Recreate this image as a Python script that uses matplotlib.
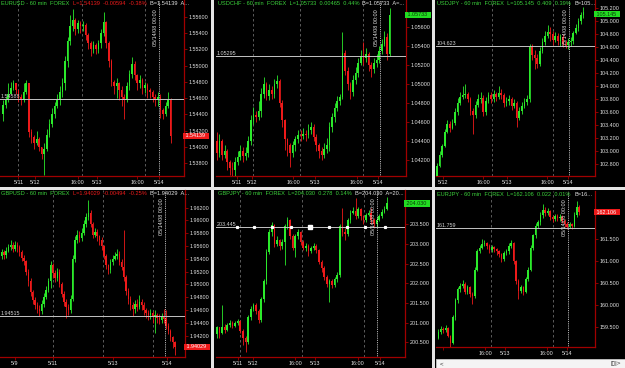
import matplotlib
matplotlib.use('Agg')
import matplotlib.pyplot as plt
import matplotlib.transforms as mtransforms

plt.rcParams['font.family'] = ['Liberation Sans', 'DejaVu Sans']

W, H = 625, 368
fig = plt.figure(figsize=(W / 100, H / 100), dpi=100, facecolor='#e4e4e4')
FS = 3.9
TFS = 4.1
GREEN = '#2bea2b'
RED = '#ee1a1a'
TXT = '#e2e2e2'
AXRED = '#a00000'

# ---------------- data ----------------
eurusd_open0 = 1.5440
eurusd_close = [1.5452, 1.5458, 1.5465, 1.5472, 1.5478, 1.5470, 1.5462, 1.5458, 1.5468, 1.5478,
                1.5418, 1.5412, 1.5405, 1.5410, 1.5400, 1.5392, 1.5398, 1.5415, 1.5428, 1.5440,
                1.5450, 1.5458, 1.5468, 1.5478, 1.5505, 1.5530, 1.5548, 1.5556, 1.5545, 1.5552,
                1.5548, 1.5550, 1.5538, 1.5528, 1.5520, 1.5525, 1.5520, 1.5528, 1.5540, 1.5553,
                1.5528, 1.5505, 1.5480, 1.5475, 1.5478, 1.5470, 1.5462, 1.5458, 1.5475, 1.5490,
                1.5502, 1.5488, 1.5478, 1.5482, 1.5472, 1.5476, 1.5470, 1.5468, 1.5462, 1.5458,
                1.5462, 1.5445, 1.5440, 1.5450, 1.5458, 1.54139]
eurusd_high = [1.5458, 1.5462, 1.5478, 1.5480, 1.5482, 1.5478, 1.5470, 1.5465, 1.5478, 1.5482,
               1.5478, 1.5422, 1.5415, 1.5420, 1.5412, 1.5400, 1.5405, 1.5422, 1.5435, 1.5448,
               1.5455, 1.5465, 1.5475, 1.5485, 1.5512, 1.5535, 1.5562, 1.5570, 1.5558, 1.5556,
               1.5555, 1.5555, 1.5552, 1.5540, 1.5530, 1.5530, 1.5528, 1.5532, 1.5545, 1.5566,
               1.5555, 1.5530, 1.5508, 1.5482, 1.5485, 1.5480, 1.5475, 1.5465, 1.5480, 1.5495,
               1.5510, 1.5505, 1.5490, 1.5488, 1.5485, 1.5480, 1.5478, 1.5472, 1.5470, 1.5465,
               1.5468, 1.5465, 1.5448, 1.5455, 1.5468, 1.5460]
eurusd_low = [1.5432, 1.5448, 1.5455, 1.5465, 1.5470, 1.5465, 1.5455, 1.5452, 1.5455, 1.5465,
              1.5412, 1.5405, 1.5398, 1.5402, 1.5395, 1.5385, 1.5366, 1.5395, 1.5412, 1.5425,
              1.5436, 1.5448, 1.5452, 1.5462, 1.5470, 1.5498, 1.5525, 1.5542, 1.5538, 1.5540,
              1.5540, 1.5542, 1.5532, 1.5520, 1.5512, 1.5515, 1.5514, 1.5516, 1.5522, 1.5536,
              1.5522, 1.5498, 1.5475, 1.5465, 1.5460, 1.5458, 1.5450, 1.5435, 1.5455, 1.5470,
              1.5485, 1.5482, 1.5470, 1.5472, 1.5465, 1.5466, 1.5460, 1.5460, 1.5455, 1.5450,
              1.5450, 1.5436, 1.5435, 1.5438, 1.5448, 1.5405]

usdchf_open0 = 1.0440
usdchf_close = [1.0428, 1.0440, 1.0426, 1.0430, 1.0418, 1.0412, 1.0410, 1.0418, 1.0424, 1.0430,
                1.0425, 1.0428, 1.0440, 1.0462, 1.0468, 1.0466, 1.0472, 1.0490, 1.0500, 1.0488,
                1.0494, 1.0490, 1.0500, 1.0504, 1.0480, 1.0462, 1.0442, 1.0436, 1.0428, 1.0436,
                1.0442, 1.0447, 1.0446, 1.0448, 1.0447, 1.0452, 1.0455, 1.0445, 1.0436, 1.0430,
                1.0426, 1.0432, 1.0436, 1.0455, 1.0466, 1.0475, 1.0482, 1.0487, 1.0533, 1.0514,
                1.0500, 1.0492, 1.0505, 1.0512, 1.0522, 1.0530, 1.0528, 1.0532, 1.0520, 1.0516,
                1.0522, 1.0526, 1.0535, 1.0542, 1.0550, 1.0532, 1.05733]
usdchf_high = [1.0450, 1.0448, 1.0442, 1.0436, 1.0432, 1.0420, 1.0418, 1.0424, 1.0430, 1.0436,
               1.0434, 1.0434, 1.0446, 1.0468, 1.0476, 1.0472, 1.0482, 1.0496, 1.0508, 1.0502,
               1.0500, 1.0498, 1.0506, 1.0510, 1.0506, 1.0484, 1.0464, 1.0444, 1.0438, 1.0440,
               1.0446, 1.0452, 1.0452, 1.0454, 1.0452, 1.0458, 1.0460, 1.0458, 1.0448, 1.0438,
               1.0434, 1.0438, 1.0444, 1.0460, 1.0470, 1.0480, 1.0488, 1.0490, 1.0555, 1.0536,
               1.0518, 1.0502, 1.0510, 1.0518, 1.0528, 1.0536, 1.0545, 1.0538, 1.0534, 1.0524,
               1.0528, 1.0532, 1.0540, 1.0548, 1.0556, 1.0554, 1.0580]
usdchf_low = [1.0420, 1.0424, 1.0420, 1.0422, 1.0410, 1.0405, 1.0404, 1.0402, 1.0415, 1.0420,
              1.0418, 1.0420, 1.0424, 1.0436, 1.0458, 1.0460, 1.0462, 1.0466, 1.0486, 1.0484,
              1.0484, 1.0485, 1.0486, 1.0496, 1.0476, 1.0455, 1.0431, 1.0425, 1.0413, 1.0424,
              1.0430, 1.0438, 1.0440, 1.0442, 1.0440, 1.0444, 1.0448, 1.0440, 1.0430, 1.0422,
              1.0420, 1.0422, 1.0428, 1.0430, 1.0450, 1.0460, 1.0472, 1.0478, 1.0485, 1.0510,
              1.0494, 1.0485, 1.0488, 1.0500, 1.0508, 1.0520, 1.0520, 1.0524, 1.0514, 1.0508,
              1.0512, 1.0518, 1.0522, 1.0532, 1.0540, 1.0526, 1.0530]

usdjpy_open0 = 102.62
usdjpy_close = [102.78, 102.95, 103.08, 103.30, 103.42, 103.36, 103.44, 103.60, 103.75, 103.84,
                103.86, 103.88, 103.80, 103.62, 103.56, 103.72, 103.80, 103.82, 103.60, 103.78,
                103.86, 103.80, 103.88, 103.84, 103.90, 103.86, 103.74, 103.78, 103.80, 103.70,
                103.74, 103.52, 103.62, 103.70, 103.76, 103.80, 104.60, 104.48, 104.44, 104.34,
                104.55, 104.68, 104.78, 104.84, 104.80, 104.72, 104.78, 104.70, 104.76, 104.66,
                104.64, 104.68, 104.70, 104.82, 104.90, 105.00, 105.10, 105.145]
usdjpy_high = [102.82, 103.00, 103.12, 103.35, 103.48, 103.46, 103.50, 103.66, 103.82, 103.92,
               104.01, 104.04, 103.92, 103.84, 103.66, 103.78, 103.88, 103.92, 103.86, 103.84,
               103.92, 103.92, 103.94, 103.92, 104.00, 103.96, 103.90, 103.84, 103.86, 103.84,
               103.80, 103.78, 103.68, 103.76, 103.82, 103.86, 104.66, 104.66, 104.56, 104.50,
               104.60, 104.74, 104.86, 104.94, 104.92, 104.86, 104.84, 104.82, 104.80, 104.80,
               104.72, 104.74, 104.76, 104.86, 104.96, 105.05, 105.14, 105.22]
usdjpy_low = [102.58, 102.76, 102.92, 103.06, 103.28, 103.30, 103.34, 103.40, 103.56, 103.72,
              103.80, 103.82, 103.76, 103.56, 103.26, 103.52, 103.68, 103.74, 103.54, 103.56,
              103.74, 103.74, 103.76, 103.78, 103.80, 103.80, 103.68, 103.70, 103.72, 103.64,
              103.66, 103.38, 103.48, 103.58, 103.66, 103.72, 103.76, 104.40, 104.27, 104.28,
              104.32, 104.52, 104.64, 104.74, 104.70, 104.64, 104.68, 104.64, 104.62, 104.60,
              104.59, 104.58, 104.62, 104.66, 104.80, 104.86, 104.96, 105.06]

gbpusd_open0 = 1.9545
gbpusd_close = [1.9550, 1.9546, 1.9552, 1.9558, 1.9562, 1.9556, 1.9562, 1.9558, 1.9550, 1.9542,
                1.9536, 1.9520, 1.9505, 1.9488, 1.9476, 1.9468, 1.9462, 1.9458, 1.9470, 1.9480,
                1.9492, 1.9505, 1.9530, 1.9518, 1.9510, 1.9520, 1.9500, 1.9485, 1.9472, 1.9465,
                1.9460, 1.9478, 1.9540, 1.9570, 1.9578, 1.9572, 1.9580, 1.9595, 1.9605, 1.9612,
                1.9595, 1.9578, 1.9582, 1.9575, 1.9570, 1.9560, 1.9545, 1.9530, 1.9522, 1.9535,
                1.9540, 1.9545, 1.9548, 1.9535, 1.9528, 1.9512, 1.9490, 1.9478, 1.9468, 1.9462,
                1.9470, 1.9465, 1.9472, 1.9468, 1.9460, 1.9456, 1.9452, 1.9455, 1.9450, 1.9452,
                1.9448, 1.9445, 1.9450, 1.9446, 1.9435, 1.9428, 1.9418, 1.9410, 1.94029]
gbpusd_high = [1.9556, 1.9554, 1.9558, 1.9564, 1.9570, 1.9566, 1.9568, 1.9566, 1.9562, 1.9554,
               1.9546, 1.9538, 1.9524, 1.9510, 1.9492, 1.9480, 1.9472, 1.9468, 1.9476, 1.9486,
               1.9498, 1.9510, 1.9536, 1.9534, 1.9522, 1.9526, 1.9524, 1.9504, 1.9490, 1.9478,
               1.9470, 1.9484, 1.9546, 1.9576, 1.9585, 1.9584, 1.9588, 1.9600, 1.9612, 1.9632,
               1.9616, 1.9598, 1.9588, 1.9586, 1.9578, 1.9574, 1.9562, 1.9548, 1.9532, 1.9540,
               1.9546, 1.9550, 1.9555, 1.9552, 1.9540, 1.9585, 1.9515, 1.9494, 1.9482, 1.9472,
               1.9476, 1.9478, 1.9484, 1.9478, 1.9472, 1.9464, 1.9460, 1.9462, 1.9458, 1.9460,
               1.9456, 1.9454, 1.9456, 1.9462, 1.9460, 1.9440, 1.9430, 1.9420, 1.9412]
gbpusd_low = [1.9540, 1.9540, 1.9542, 1.9550, 1.9554, 1.9550, 1.9552, 1.9550, 1.9544, 1.9536,
              1.9530, 1.9515, 1.9498, 1.9482, 1.9470, 1.9462, 1.9456, 1.9450, 1.9454, 1.9465,
              1.9478, 1.9488, 1.9494, 1.9510, 1.9504, 1.9506, 1.9496, 1.9480, 1.9466, 1.9447,
              1.9452, 1.9455, 1.9474, 1.9535, 1.9565, 1.9566, 1.9568, 1.9578, 1.9590, 1.9600,
              1.9590, 1.9572, 1.9574, 1.9568, 1.9562, 1.9554, 1.9540, 1.9524, 1.9516, 1.9518,
              1.9530, 1.9538, 1.9540, 1.9530, 1.9522, 1.9505, 1.9484, 1.9470, 1.9460, 1.9450,
              1.9456, 1.9458, 1.9462, 1.9460, 1.9452, 1.9448, 1.9444, 1.9446, 1.9440, 1.9424,
              1.9440, 1.9438, 1.9440, 1.9440, 1.9430, 1.9422, 1.9412, 1.9400, 1.9390]

gbpjpy_open0 = 200.70
gbpjpy_close = [200.88, 200.75, 200.90, 200.82, 200.95, 201.00, 200.92, 200.98, 201.05, 200.80,
                200.60, 200.50, 201.15, 201.35, 201.45, 201.30, 201.08, 201.60, 202.05, 202.80,
                203.30, 203.48, 203.00, 203.10, 202.95, 203.05, 203.45, 203.60, 203.20, 202.90,
                203.20, 203.30, 203.06, 202.90, 202.95, 202.82, 202.90, 202.96, 202.85, 202.55,
                202.40, 202.15, 201.98, 202.05, 201.95, 202.10, 202.20, 203.45, 203.30, 203.25,
                203.60, 203.80, 203.85, 203.72, 203.88, 203.70, 203.60, 203.75, 203.80, 203.60,
                203.50, 203.62, 203.70, 203.82, 203.90, 204.03]
gbpjpy_high = [200.92, 200.90, 201.45, 200.96, 201.00, 201.06, 201.04, 201.04, 201.10, 201.08,
               200.84, 200.66, 201.20, 201.42, 201.50, 201.50, 201.34, 201.66, 202.12, 202.88,
               203.38, 203.55, 203.50, 203.20, 203.14, 203.12, 203.50, 203.69, 203.64, 203.25,
               203.26, 203.38, 203.34, 203.10, 203.02, 203.00, 202.96, 203.02, 203.00, 202.88,
               202.60, 202.44, 202.20, 202.12, 202.10, 202.16, 202.28, 203.50, 203.91, 203.40,
               203.66, 203.86, 203.94, 204.16, 203.94, 203.92, 203.74, 203.80, 203.86, 203.91,
               203.66, 203.68, 203.76, 203.88, 203.96, 204.20]
gbpjpy_low = [200.60, 200.62, 200.70, 200.74, 200.78, 200.88, 200.86, 200.88, 200.94, 200.74,
              200.43, 200.26, 200.45, 201.08, 201.30, 201.22, 201.00, 201.02, 201.52, 201.98,
              202.74, 203.20, 202.92, 202.94, 202.86, 202.88, 202.47, 203.38, 203.14, 202.84,
              202.68, 203.12, 202.98, 202.84, 202.82, 202.70, 202.76, 202.86, 202.78, 202.48,
              202.30, 202.08, 201.90, 201.53, 201.88, 201.90, 202.04, 202.15, 203.20, 203.10,
              203.20, 203.54, 203.76, 203.64, 203.66, 203.62, 203.52, 203.55, 203.70, 203.52,
              203.40, 203.44, 203.58, 203.66, 203.78, 203.86]

eurjpy_open0 = 159.25
eurjpy_close = [159.38, 159.45, 159.42, 159.48, 159.30, 159.12, 159.72, 160.10, 160.35, 160.42,
                160.48, 160.30, 160.40, 160.25, 160.20, 160.80, 161.22, 161.30, 161.38, 161.42,
                161.35, 161.25, 161.32, 161.28, 161.22, 161.15, 161.05, 161.18, 161.22, 161.35,
                161.42, 161.00, 160.55, 160.32, 160.40, 160.30, 160.60, 160.80, 161.30, 161.58,
                161.80, 161.88, 162.05, 162.15, 162.10, 162.14, 162.00, 161.95, 162.02, 161.98,
                162.00, 161.92, 161.85, 161.78, 161.84, 161.80, 162.05, 162.22, 162.106]
eurjpy_high = [159.46, 159.52, 159.50, 159.54, 159.50, 159.32, 159.76, 160.16, 160.40, 160.50,
               160.56, 160.52, 160.46, 160.44, 160.30, 160.86, 161.28, 161.36, 161.50, 161.48,
               161.44, 161.38, 161.36, 161.34, 161.30, 161.26, 161.18, 161.22, 161.28, 161.40,
               161.48, 161.44, 161.02, 160.58, 160.46, 160.42, 160.64, 160.86, 161.36, 161.62,
               161.86, 161.94, 162.12, 162.29, 162.24, 162.20, 162.16, 162.04, 162.08, 162.06,
               162.06, 162.04, 161.96, 161.88, 161.88, 161.86, 162.12, 162.37, 162.28]
eurjpy_low = [159.22, 159.34, 159.36, 159.38, 159.26, 159.05, 159.10, 159.66, 160.04, 160.30,
              160.38, 160.25, 160.24, 160.18, 160.03, 160.16, 160.76, 161.18, 161.28, 161.34,
              161.28, 161.18, 161.20, 161.20, 161.14, 161.08, 160.98, 161.00, 161.14, 161.16,
              161.30, 160.94, 160.48, 160.14, 160.26, 160.22, 160.26, 160.54, 160.76, 161.24,
              161.52, 161.76, 161.82, 161.98, 162.02, 162.04, 161.94, 161.88, 161.90, 161.92,
              161.92, 161.86, 161.78, 161.73, 161.74, 161.72, 161.78, 162.00, 162.04]

# date axis labels (bar index positions) and tick labels
eurusd_dates = [6, 12.5, 29, 36.5, 52, 60.5]
eurusd_date_labels = ['5/11', '5/12', '16:00', '5/13', '16:00', '5/14']
usdchf_dates = [7.7, 13.5, 29.1, 37.5, 53.5, 61.5]
usdchf_date_labels = ['5/11', '5/12', '16:00', '5/13', '16:00', '5/14']
usdjpy_dates = [2.3, 17.9, 27.2, 42.8, 51]
usdjpy_date_labels = ['5/12', '16:00', '5/13', '16:00', '5/14']
gbpusd_dates = [6, 23.1, 50.1, 74.5]
gbpusd_date_labels = ['5/9', '5/11', '5/13', '5/14']
gbpjpy_dates = [8.1, 13.9, 29.9, 37.5, 53.9, 62.3]
gbpjpy_date_labels = ['5/11', '5/12', '16:00', '5/13', '16:00', '5/14']
eurjpy_dates = [2, 19.2, 27.4, 44.7, 53]
eurjpy_date_labels = ['', '16:00', '5/13', '16:00', '5/14']

# session separators (dashed) and the 05/14/08 00:00 marker
eurusd_seps, eurusd_mark = [5.8, 30.6, 55], 60.5
usdchf_seps, usdchf_mark = [13.9, 31.8, 55.8], 62.3
usdjpy_seps, usdjpy_mark = [21.3, 45.3], 51.4
gbpusd_seps, gbpusd_mark = [23.2, 45.8, 68.3], 73.6
gbpjpy_seps, gbpjpy_mark = [8.9, 32.4, 56.2], 61.3
eurjpy_seps, eurjpy_mark = [21.5, 47.3], 53.5

# horizontal reference lines
eurusd_ref, usdchf_ref, usdjpy_ref = 1.54588, 1.05295, 104.623
gbpusd_ref, gbpjpy_ref, eurjpy_ref = 1.94515, 203.445, 161.759
gbpjpy_handles = [7.6, 14.2, 21.2, 28.2, 42.8, 49.8, 56.7, 64.3]
gbpjpy_handle_main = 35.8

# price axis ticks
eurusd_ticks = [1.538, 1.540, 1.542, 1.544, 1.546, 1.548, 1.550, 1.552, 1.554, 1.556]
usdchf_ticks = [1.042, 1.044, 1.046, 1.048, 1.050, 1.052, 1.054, 1.056]
usdjpy_ticks = [102.8, 103.0, 103.2, 103.4, 103.6, 103.8, 104.0, 104.2, 104.4, 104.6, 104.8, 105.0, 105.2]
gbpusd_ticks = [1.942, 1.944, 1.946, 1.948, 1.950, 1.952, 1.954, 1.956, 1.958, 1.960, 1.962]
gbpjpy_ticks = [200.5, 201.0, 201.5, 202.0, 202.5, 203.0, 203.5]
eurjpy_ticks = [159.5, 160.0, 160.5, 161.0, 161.5]


def fig_axes(L, T, R, B, **kw):
    return fig.add_axes([L / W, 1 - B / H, (R - L) / W, (B - T) / H], **kw)


def panel(box, plot, px0, step, ylim, o0, close, high, low, ticks, fmt,
          dates, dlabels, seps, mark, ref, reflabel, last, lastup, title_parts,
          box_dy=0.0):
    L, T, R, B = box
    bg = fig_axes(L, T, R, B)
    bg.set_facecolor('black')
    bg.set_xticks([]); bg.set_yticks([])
    for s in bg.spines.values():
        s.set_visible(False)
    pl, pt, pr, pb = plot
    ax = fig_axes(pl, pt, pr, pb)
    ax.set_facecolor('black')
    ax.set_xlim((pl - px0) / step, (pr - px0) / step)
    ax.set_ylim(*ylim)
    for s in ['top', 'left']:
        ax.spines[s].set_visible(False)
    for s in ['right', 'bottom']:
        ax.spines[s].set_color(AXRED)
        ax.spines[s].set_linewidth(0.9)
    # candles
    opens = [o0] + close[:-1]
    for i, (o, c, h, l) in enumerate(zip(opens, close, high, low)):
        col = GREEN if c >= o else RED
        h = max(h, o, c); l = min(l, o, c)
        ax.vlines(i, l, h, color=col, lw=0.6, zorder=3)
        ax.bar(i, max(abs(c - o), (ylim[1] - ylim[0]) * 0.004), bottom=min(o, c),
               width=0.62, color=col, lw=0, zorder=3)
    # separators
    for x in seps:
        ax.axvline(x, color='#6a6a6a', lw=0.6, ls=(0, (3, 3)), zorder=1)
    ax.axvline(mark, color='#f0f0f0', lw=0.6, ls=(0, (1, 1.2)), zorder=4)
    ax.text(mark - 0.5, ylim[1] - (ylim[1] - ylim[0]) * 0.052, '05/14/08 00:00',
            rotation=90, ha='right', va='top', color=TXT, fontsize=FS, zorder=5)
    # reference line
    ax.axhline(ref, color='#c4c4c4', lw=0.7, zorder=4)
    ax.text(ax.get_xlim()[0] + 0.3, ref, reflabel, ha='left', va='bottom',
            color='#d0d0d0', fontsize=FS, zorder=5)
    # price axis
    ax.yaxis.tick_right()
    ax.set_yticks(ticks)
    ax.set_yticklabels([fmt.format(t) for t in ticks])
    ax.tick_params(axis='y', colors=AXRED, labelcolor=TXT, labelsize=FS,
                   length=2, width=0.6, pad=1.5)
    ax.set_xticks(dates)
    ax.set_xticklabels(dlabels)
    ax.tick_params(axis='x', colors=AXRED, labelcolor=TXT, labelsize=FS,
                   length=2, width=0.6, pad=1.0)
    # last price box
    tr = mtransforms.blended_transform_factory(ax.transAxes, ax.transData)
    tr = mtransforms.offset_copy(tr, fig=fig, x=0, y=-box_dy, units='points')
    ax.text(1.0, last, ' ' + fmt.format(last) + '  ', transform=tr, ha='left', va='center',
            fontsize=FS, color='white' if not lastup else '#0a3a0a', zorder=6, clip_on=False,
            bbox=dict(facecolor=RED if not lastup else '#22dd22', edgecolor='none', pad=0.4))
    # title
    prev = None
    for txt, col in title_parts:
        if prev is None:
            prev = ax.text(0.008, 0.995, txt, transform=ax.transAxes, ha='left', va='top',
                           color=col, fontsize=TFS, zorder=6)
        else:
            prev = ax.annotate(txt, xy=(1, 0), xycoords=prev, ha='left', va='bottom',
                               color=col, fontsize=TFS, zorder=6)
    return ax


TGREEN = '#3bd23b'

panel((0, 0, 211, 187), (0, 0, 184, 176), 3, 2.58, (1.53644, 1.55805),
      eurusd_open0, eurusd_close, eurusd_high, eurusd_low, eurusd_ticks, '{:.5f}',
      eurusd_dates, eurusd_date_labels, eurusd_seps, eurusd_mark,
      eurusd_ref, '1.54588', 1.54139, False,
      [('EURUSD - 60 min  FOREX  ', TGREEN), ('L=1.54139  -0.00594  -0.38%  ', RED),
       ('B=1.54139  A...', TXT)])

panel((214, 0, 432, 187), (216, 0, 406, 176), 216.7, 2.62, (1.04035, 1.05888),
      usdchf_open0, usdchf_close, usdchf_high, usdchf_low, usdchf_ticks, '{:.5f}',
      usdchf_dates, usdchf_date_labels, usdchf_seps, usdchf_mark,
      usdchf_ref, '1.05295', 1.05733, True,
      [('USDCHF - 60 min  FOREX  L=1.05733  0.00465  0.44%  ', TGREEN),
       ('B=1.05733  A=...', TXT)])

panel((435, 0, 625, 187), (436, 0, 595, 176), 437, 2.57, (102.62, 105.33),
      usdjpy_open0, usdjpy_close, usdjpy_high, usdjpy_low, usdjpy_ticks, '{:.3f}',
      usdjpy_dates, usdjpy_date_labels, usdjpy_seps, usdjpy_mark,
      usdjpy_ref, '104.623', 105.145, True,
      [('USDJPY - 60 min  FOREX  L=105.145  0.409  0.39%  ', TGREEN),
       ('B=105...', TXT)], box_dy=1.6)

panel((0, 190, 211, 368), (0, 190, 185, 357), 1.7, 2.22, (1.93867, 1.96476),
      gbpusd_open0, gbpusd_close, gbpusd_high, gbpusd_low, gbpusd_ticks, '{:.5f}',
      gbpusd_dates, gbpusd_date_labels, gbpusd_seps, gbpusd_mark,
      gbpusd_ref, '1.94515', 1.94029, False,
      [('GBPUSD - 60 min  FOREX  ', TGREEN), ('L=1.94029  -0.00494  -0.25%  ', RED),
       ('B=1.94029  A...', TXT)])

axm = panel((214, 190, 432, 368), (216, 190, 405, 357), 216.7, 2.62, (200.128, 204.373),
            gbpjpy_open0, gbpjpy_close, gbpjpy_high, gbpjpy_low, gbpjpy_ticks, '{:.3f}',
            gbpjpy_dates, gbpjpy_date_labels, gbpjpy_seps, gbpjpy_mark,
            gbpjpy_ref, '203.445', 204.030, True,
            [('GBPJPY - 60 min  FOREX  L=204.030  0.278  0.14%  ', TGREEN),
             ('B=204.030  A=20...', TXT)])
axm.plot(gbpjpy_handles, [gbpjpy_ref] * len(gbpjpy_handles), 's', ms=1.3,
         color='white', zorder=6, lw=0)
axm.plot([gbpjpy_handle_main], [gbpjpy_ref], 's', ms=2.6, color='white', zorder=6)

panel((435, 190, 625, 368), (436, 191, 595, 347), 438.3, 2.43, (159.039, 162.594),
      eurjpy_open0, eurjpy_close, eurjpy_high, eurjpy_low, eurjpy_ticks, '{:.3f}',
      eurjpy_dates, eurjpy_date_labels, eurjpy_seps, eurjpy_mark,
      eurjpy_ref, '161.759', 162.106, False,
      [('EURJPY - 60 min  FOREX  L=162.106  0.022  0.01%  ', TGREEN),
       ('B=16...', TXT)])

# scrollbar strip of the last panel
sb = fig_axes(436, 359, 625, 368)
sb.set_facecolor('#f4f4f4')
sb.set_xticks([]); sb.set_yticks([])
for s in sb.spines.values():
    s.set_color('#a0a0a0'); s.set_linewidth(0.5)
sb.text(0.02, 0.5, '<', transform=sb.transAxes, ha='left', va='center', fontsize=4.5, color='#303030')
sb.text(0.98, 0.5, '|▯|>', transform=sb.transAxes, ha='right', va='center', fontsize=4.5, color='#303030')

fig.savefig('out.png', dpi=100, facecolor=fig.get_facecolor())
